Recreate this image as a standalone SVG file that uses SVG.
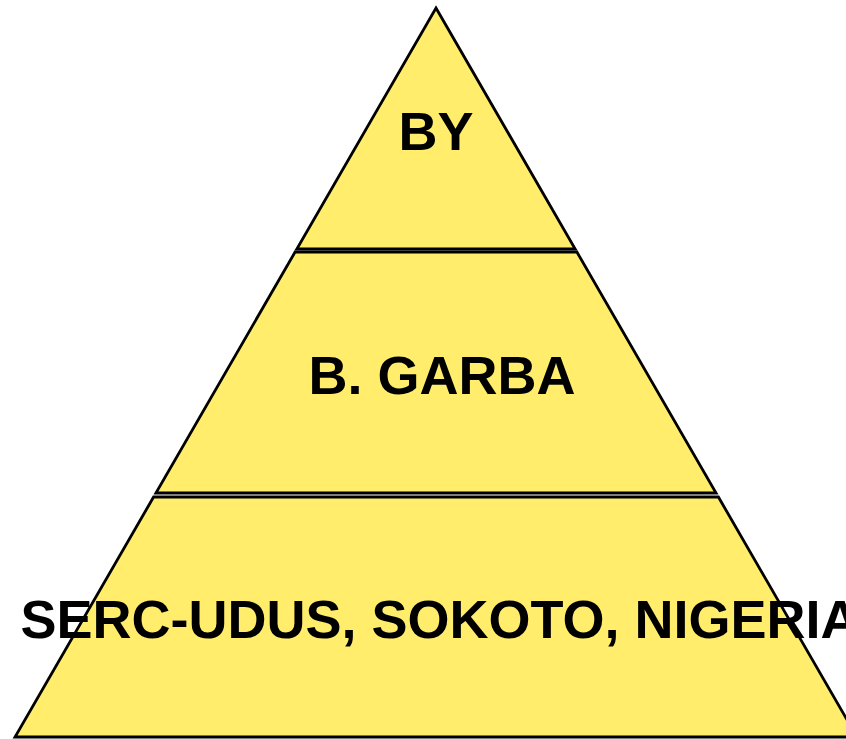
<svg xmlns="http://www.w3.org/2000/svg" width="846" height="739" viewBox="0 0 846 739">
  <style>
    .layer { fill: #FFED6B; stroke: #000000; stroke-width: 2.8; stroke-linejoin: miter; }
    .lbl { font-family: "Liberation Sans", Arial, sans-serif; font-weight: bold; font-size: 54px; fill: #000000; text-anchor: middle; }
  </style>
  <rect x="0" y="0" width="846" height="739" fill="#FFFFFF"/>
  <g id="top">
    <polygon class="layer" points="436,8 575.2,249 296.8,249"/>
    <text class="lbl" x="436" y="150">BY</text>
  </g>
  <g id="middle">
    <polygon class="layer" points="295.1,252 576.9,252 716.1,493 155.9,493"/>
    <text class="lbl" x="442" y="394">B. GARBA</text>
  </g>
  <g id="bottom">
    <polygon class="layer" points="153.6,497 718.4,497 857,737 15,737"/>
    <text class="lbl" x="440" y="638">SERC-UDUS, SOKOTO, NIGERIA</text>
  </g>
  <g id="connectors"/>
</svg>
